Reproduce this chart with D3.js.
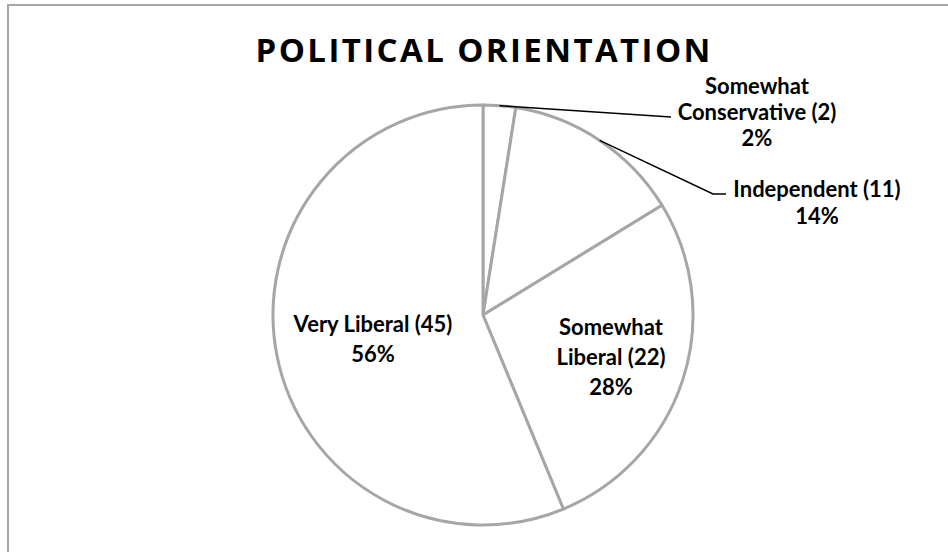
<!DOCTYPE html>
<html>
<head>
<meta charset="utf-8">
<script src="https://cdn.jsdelivr.net/npm/d3@7"></script>
<style>
  html, body { margin: 0; padding: 0; background: #ffffff; }
  svg { display: block; }
  text { font-family: Lato, "Open Sans", sans-serif; font-weight: bold; fill: #000; }
</style>
</head>
<body>
<svg id="chart" width="948" height="552"></svg>
<script>
// Survey responses, drawn clockwise from 12 o'clock
const categories = ["Somewhat Conservative", "Independent", "Somewhat Liberal", "Very Liberal"];
const counts = [2, 11, 22, 45];
const percentLabels = ["2%", "14%", "28%", "56%"];
const title = "POLITICAL ORIENTATION";

// Label placement: how each category name wraps, where the block sits, and leader lines
const labelLayout = [
  { lines: ["Somewhat", "Conservative (2)"], x: 757, y: 94, dy: 26, leader: [[671, 117]] },
  { lines: ["Independent (11)"], x: 817, y: 197, dy: 27, leader: [[713, 194], [726, 194]] },
  { lines: ["Somewhat", "Liberal (22)"], x: 611, y: 335, dy: 30, leader: null },
  { lines: ["Very Liberal (45)"], x: 373, y: 332, dy: 30, leader: null }
];

const width = 948, height = 552;
const cx = 483, cy = 315, radius = 210;
const svg = d3.select("#chart");

// Chart area frame
svg.append("rect")
  .attr("x", 8).attr("y", 5)
  .attr("width", width + 20).attr("height", height + 20)
  .attr("fill", "#fff")
  .attr("stroke", "#a6a6a6")
  .attr("stroke-width", 2);

// Title
svg.append("text")
  .attr("x", cx + 1.2).attr("y", 62)
  .attr("text-anchor", "middle")
  .style("font-family", "'Open Sans', sans-serif")
  .style("font-size", "33px")
  .style("font-weight", "700")
  .style("letter-spacing", "2.4px")
  .text(title);

const pie = d3.pie().sort(null).value(d => d).startAngle(0).endAngle(2 * Math.PI);
const arcs = pie(counts);
const arc = d3.arc().innerRadius(0).outerRadius(radius);

const g = svg.append("g").attr("transform", `translate(${cx},${cy})`);

g.selectAll("path.slice")
  .data(arcs)
  .join("path")
  .attr("class", "slice")
  .attr("d", arc)
  .attr("fill", "#ffffff")
  .attr("stroke", "#a6a6a6")
  .attr("stroke-width", 3)
  .attr("stroke-linejoin", "round");

// Leader lines from each outer slice's mid-angle on the rim to its label
arcs.forEach((a, i) => {
  const lay = labelLayout[i];
  if (!lay.leader) return;
  const mid = (a.startAngle + a.endAngle) / 2;
  const sx = cx + Math.sin(mid) * radius;
  const sy = cy - Math.cos(mid) * radius;
  const pts = [[sx, sy], ...lay.leader];
  svg.append("path")
    .attr("d", d3.line()(pts))
    .attr("fill", "none")
    .attr("stroke", "#000")
    .attr("stroke-width", 1.5);
});

// Category labels with counts and percentages
arcs.forEach((a, i) => {
  const lay = labelLayout[i];
  const lines = [...lay.lines, percentLabels[i]];
  const t = svg.append("text")
    .attr("text-anchor", "middle")
    .style("font-size", "22px");
  lines.forEach((ln, k) => {
    t.append("tspan")
      .attr("x", lay.x)
      .attr("y", lay.y + k * lay.dy)
      .text(ln);
  });
});
</script>
</body>
</html>
